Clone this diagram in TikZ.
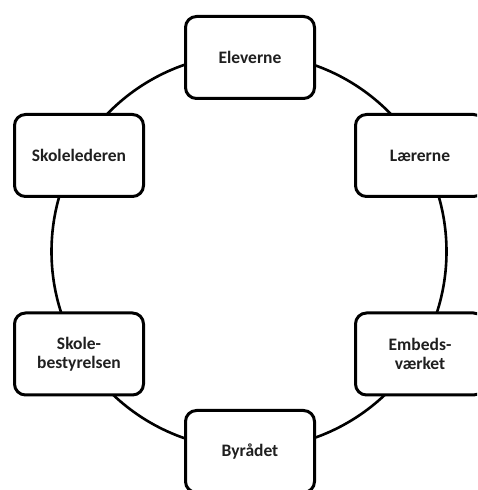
\documentclass[tikz,border=0pt]{standalone}
\usepackage{fontspec}
\setmainfont{Carlito}
\begin{document}
\begin{tikzpicture}[x=1pt,y=1pt,
  actor/.style={draw=black, line width=3pt, rounded corners=11pt, fill=white,
    minimum width=129pt, minimum height=82pt, inner sep=0pt, align=center,
    font=\fontsize{17.5}{18.5}\selectfont\bfseries, text=black!88},
  ring/.style={draw=black, line width=2.6pt}]
\useasboundingbox (0,0) rectangle (477,490);
\clip (0,0) rectangle (477,490);
\coordinate (c) at (249,238.5);
\draw[ring] (c) circle[radius=197.5];
\node[actor] (elev) at (250,432.5) {Eleverne};
\node[actor] (leder) at (79,334.5) {Skolelederen};
\node[actor] (laer) at (420,334.5) {Lærerne};
\node[actor] (best) at (79,136) {Skole-\\bestyrelsen};
\node[actor] (embe) at (420,136) {Embeds-\\værket};
\node[actor] (byr) at (250,38.5) {Byrådet};
\end{tikzpicture}
\end{document}
